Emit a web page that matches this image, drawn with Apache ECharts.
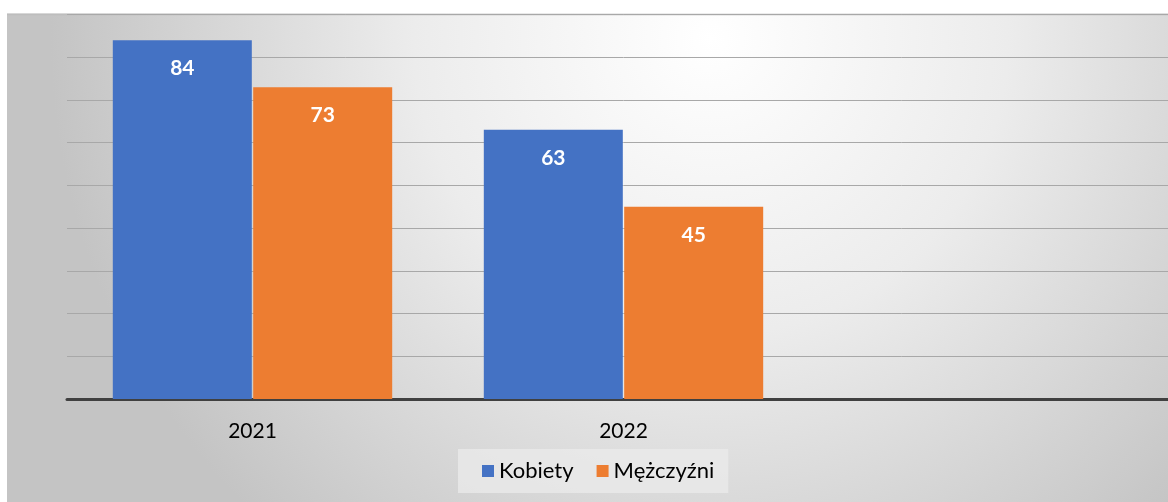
<!DOCTYPE html>
<html>
<head>
<meta charset="utf-8">
<script src="https://cdn.jsdelivr.net/npm/echarts@6/dist/echarts.min.js"></script>
<style>
html,body{margin:0;padding:0;background:#fff;overflow:hidden;}
#c{width:1180px;height:502px;}
</style>
</head>
<body>
<div id="c"></div>
<script>
var categories = ['2021', '2022', ''];
var seriesNames = ['Kobiety', 'Mężczyźni'];
var kobiety = [84, 63, null];
var mezczyzni = [73, 45, null];

var chart = echarts.init(document.getElementById('c'));
var font = 'Lato, "Open Sans", sans-serif';
chart.setOption({
  animation: false,
  graphic: [
    {
      type: 'rect', z: -10, silent: true,
      shape: {x: 7, y: 13.5, width: 1173, height: 489},
      style: {
        fill: new echarts.graphic.RadialGradient(0.6, 0.05, 1.35, [
          {offset: 0, color: '#ffffff'},
          {offset: 0.45, color: '#ececec'},
          {offset: 1, color: '#c4c4c4'}
        ])
      }
    },
    {
      type: 'line', z: -9, silent: true,
      shape: {x1: 7, y1: 14.5, x2: 1180, y2: 14.5},
      style: {stroke: '#bdbdbd', lineWidth: 1.5}
    }
  ],
  grid: {left: 67, top: 14.5, width: 1113, height: 384.5, containLabel: false},
  legend: {
    data: seriesNames,
    left: 458, top: 449,
    backgroundColor: 'rgba(235,235,235,0.75)',
    padding: [11, 14, 11, 24],
    itemWidth: 12, itemHeight: 12, itemGap: 23,
    icon: 'rect',
    textStyle: {fontFamily: font, fontSize: 22, color: '#000'}
  },
  xAxis: {
    type: 'category',
    data: categories,
    axisLine: {lineStyle: {color: '#404040', width: 3}},
    axisTick: {show: false},
    axisLabel: {fontFamily: font, fontSize: 21, color: '#000', margin: 22}
  },
  yAxis: {
    type: 'value',
    min: 0, max: 90, interval: 10,
    axisLine: {show: false},
    axisTick: {show: false},
    axisLabel: {show: false},
    splitLine: {lineStyle: {color: '#a8a8a8', width: 1}}
  },
  series: [
    {
      name: seriesNames[0], type: 'bar', data: kobiety,
      barWidth: 139, barGap: '1%',
      itemStyle: {color: '#4472C4'},
      label: {show: true, position: 'insideTop', distance: 18, color: '#fff',
        fontFamily: font, fontWeight: 'bold', fontSize: 21}
    },
    {
      name: seriesNames[1], type: 'bar', data: mezczyzni,
      barWidth: 139, barGap: '1%',
      itemStyle: {color: '#ED7D31'},
      label: {show: true, position: 'insideTop', distance: 18, color: '#fff',
        fontFamily: font, fontWeight: 'bold', fontSize: 21}
    }
  ]
});
</script>
</body>
</html>
